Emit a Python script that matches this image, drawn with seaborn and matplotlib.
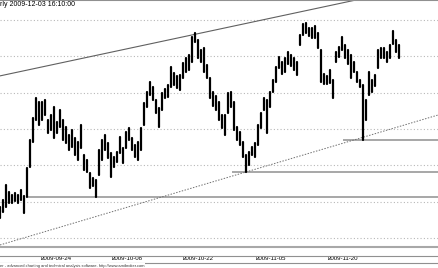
import numpy as np
import pandas as pd
import matplotlib
matplotlib.use("Agg")
import matplotlib.pyplot as plt
import seaborn as sns

# ---- data ----
highs = [1021.3, 1026.1, 1036.5, 1031.6, 1029.6, 1031.0, 1029.6, 1033.0, 1028.9, 1048.2,
         1067.4, 1082.6, 1096.3, 1093.6, 1093.6, 1094.9, 1081.2, 1084.6, 1090.1, 1079.8,
         1088.1, 1081.2, 1076.4, 1070.9, 1074.3, 1068.8, 1066.0, 1077.7, 1057.1, 1053.7,
         1044.7, 1041.3, 1039.9, 1060.5, 1067.4, 1070.9, 1065.4, 1058.5, 1055.7, 1059.2,
         1069.5, 1061.9, 1072.9, 1075.7, 1068.8, 1064.0, 1066.0, 1075.7, 1092.9, 1100.4,
         1107.3, 1103.9, 1094.9, 1089.4, 1099.8, 1102.5, 1105.3, 1117.6, 1113.5, 1111.5,
         1112.1, 1120.4, 1123.8, 1125.9, 1138.3, 1141.0, 1136.2, 1129.3, 1130.7, 1119.0,
         1110.1, 1100.4, 1097.7, 1093.6, 1084.6, 1084.6, 1099.8, 1100.4, 1093.6, 1076.4,
         1072.9, 1066.0, 1057.1, 1059.2, 1062.6, 1065.4, 1077.7, 1086.0, 1096.3, 1094.9,
         1100.4, 1108.7, 1117.6, 1124.5, 1121.1, 1123.8, 1128.0, 1125.9, 1123.8, 1121.1,
         1139.7, 1147.2, 1147.9, 1144.5, 1144.5, 1145.9, 1141.0, 1129.3, 1112.8, 1111.5,
         1115.6, 1108.7, 1128.0, 1131.4, 1138.3, 1132.8, 1129.3, 1125.9, 1121.1, 1114.2,
         1108.7, 1105.3, 1094.9, 1114.2, 1108.7, 1112.1, 1129.3, 1130.7, 1130.7, 1128.0,
         1132.8, 1142.4, 1136.2, 1132.8]
lows = [1013.8, 1017.9, 1021.3, 1024.1, 1024.1, 1025.5, 1024.1, 1026.1, 1017.2, 1028.2,
        1048.8, 1066.0, 1081.2, 1077.7, 1081.2, 1084.6, 1072.2, 1074.3, 1068.8, 1072.2,
        1076.4, 1067.4, 1065.4, 1060.5, 1062.6, 1057.1, 1053.7, 1061.9, 1046.8, 1045.4,
        1034.4, 1035.8, 1028.2, 1043.3, 1053.7, 1060.5, 1055.0, 1042.0, 1048.8, 1052.3,
        1058.5, 1051.6, 1061.9, 1067.4, 1060.5, 1055.7, 1053.7, 1060.5, 1077.7, 1090.1,
        1098.4, 1094.9, 1086.0, 1076.4, 1088.1, 1096.3, 1097.0, 1103.9, 1105.3, 1103.2,
        1101.8, 1110.1, 1114.2, 1115.6, 1121.1, 1134.8, 1123.8, 1121.1, 1114.2, 1110.1,
        1096.3, 1090.8, 1088.1, 1081.2, 1075.7, 1070.9, 1086.0, 1090.1, 1074.3, 1067.4,
        1064.0, 1055.7, 1045.4, 1050.2, 1057.1, 1055.7, 1064.0, 1075.7, 1088.1, 1072.2,
        1090.1, 1100.4, 1107.3, 1117.0, 1112.8, 1114.2, 1119.7, 1118.3, 1115.6, 1112.1,
        1132.8, 1139.7, 1141.0, 1139.0, 1137.6, 1137.6, 1130.7, 1107.3, 1106.0, 1106.0,
        1106.6, 1096.3, 1121.1, 1124.5, 1129.3, 1123.8, 1119.7, 1110.1, 1114.2, 1107.3,
        1103.9, 1067.4, 1081.2, 1098.4, 1100.4, 1104.6, 1117.0, 1123.8, 1123.8, 1121.1,
        1123.8, 1133.5, 1128.0, 1123.8]

grid_levels = [1000, 1025, 1050, 1075, 1100, 1125, 1150]
tick_pos = [-10.3, 13.7, 37.3, 61.0, 85.3, 109.3]
tick_labels = ["2009-09-10", "2009-09-24", "2009-10-08", "2009-10-22", "2009-11-05", "2009-11-20"]

# trend lines: two anchor points each (bar, price)
resist_pts = [(0, 1111.5), (65, 1140.1)]
support_pts = [(0, 995.2), (82, 1045.4)]
# horizontal support levels: (start bar, price)
hlevels = [(9.3, 1028.2), (77.3, 1045.4), (114.3, 1067.4)]

title = "rly 2009-12-03 16:10:00"
footer = "er - advanced charting and technical analysis software. http://www.amibroker.com"

# ---- build figure ----
sns.set_style("white")
plt.rcParams['font.family'] = ['Liberation Sans', 'DejaVu Sans']

W, H = 439, 268
fig = plt.figure(figsize=(W / 100, H / 100), dpi=100)
fig.patch.set_facecolor("white")

def px_axes(x0, y0, x1, y1):
    return fig.add_axes([x0 / W, 1 - y1 / H, (x1 - x0) / W, (y1 - y0) / H])

ax = px_axes(0, 0, W, 247)
xmax = W / 3.0
ax.set_xlim(0, xmax)
ax.set_ylim(993.8, 1163.7)

n = len(highs)
bars = np.arange(n)
df = pd.DataFrame({
    "bar": np.concatenate([bars, bars]),
    "price": np.concatenate([lows, highs]),
})
for lv in grid_levels:
    ax.axhline(lv, color="#b8b8b8", lw=0.8, ls=(0, (1, 2)), zorder=0)

for x0, lv in hlevels:
    ax.plot([x0, xmax], [lv, lv], color="#a0a0a0", lw=1.3, zorder=1, solid_capstyle="butt")

ax.axline(resist_pts[0], resist_pts[1], color="#606060", lw=0.8, zorder=1)
ax.axline(support_pts[0], support_pts[1], color="#707070", lw=0.7, ls=(0, (1.5, 1.5)), zorder=1)

sns.lineplot(data=df, x="bar", y="price", units="bar", estimator=None, sort=False,
             color="black", lw=1.6, ax=ax, zorder=3, legend=False)

ax.set_xticks([])
ax.set_yticks([])
ax.set_xlabel("")
ax.set_ylabel("")
for s in ["left", "right"]:
    ax.spines[s].set_visible(False)
ax.spines["top"].set_color("#909090")
ax.spines["top"].set_linewidth(1.5)
ax.spines["bottom"].set_color("#a8a8a8")
ax.spines["bottom"].set_linewidth(1.5)

# date strip
left_px = -40
ax2 = px_axes(left_px, 255.5, W, 263)
ax2.set_xlim(left_px / 3.0, xmax)
ax2.set_ylim(0, 1)
ax2.set_yticks([])
ax2.set_xticks(tick_pos)
ax2.set_xticklabels(tick_labels, fontsize=4.4, ha="left", color="black")
ax2.tick_params(axis="x", which="both", top=True, bottom=False, labeltop=False,
                labelbottom=True, direction="in", length=2.5, width=0.5,
                color="#555555", pad=-5.2)
for s in ["left", "right"]:
    ax2.spines[s].set_visible(False)
for s in ["top", "bottom"]:
    ax2.spines[s].set_color("#909090")
    ax2.spines[s].set_linewidth(0.8)

fig.text(0.5 / W, 1 - 4.5 / H, title, ha="left", va="center", fontsize=5.0, color="black")
fig.text(0.5 / W, 1 - 265.5 / H, footer, ha="left", va="center", fontsize=2.9, color="#333333",
         bbox=dict(facecolor="white", edgecolor="none", pad=0.3))

fig.savefig("out.png", dpi=100)
